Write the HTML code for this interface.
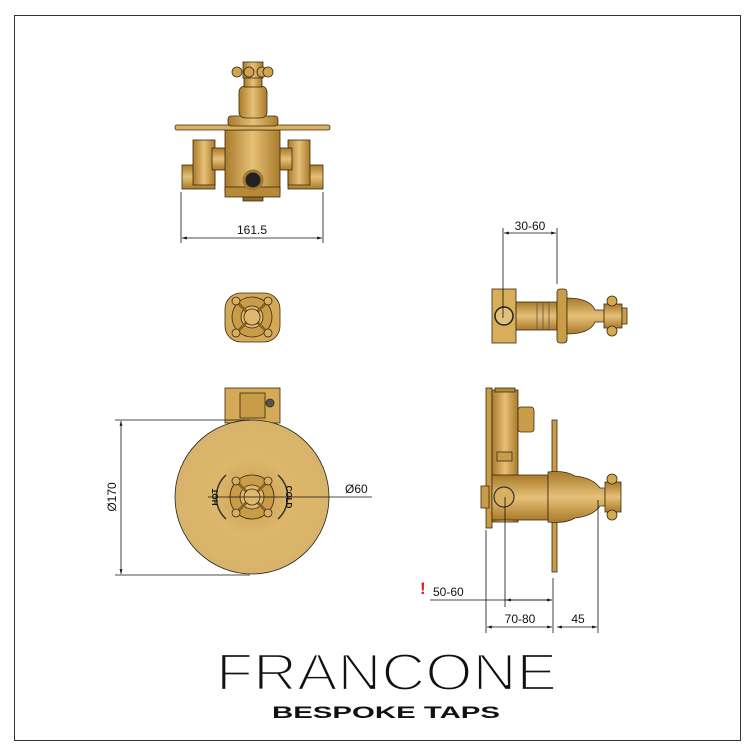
<!DOCTYPE html>
<html><head><meta charset="utf-8"><style>
html,body{margin:0;padding:0;background:#fff}
svg{display:block}
text{font-family:"Liberation Sans",sans-serif;fill:#111}
</style></head><body>
<svg width="755" height="756" viewBox="0 0 755 756" xmlns="http://www.w3.org/2000/svg">
<defs>
<radialGradient id="g1" cx="50%" cy="50%" r="50%"><stop offset="0" stop-color="#c9a050"/><stop offset="0.5" stop-color="#dcb66a"/><stop offset="1" stop-color="#d8b46a"/></radialGradient>
<linearGradient id="gv" x1="0" x2="1"><stop offset="0" stop-color="#a97a2a"/><stop offset="0.5" stop-color="#e6c078"/><stop offset="1" stop-color="#a97a2a"/></linearGradient>
<linearGradient id="gh" x1="0" x2="0" y1="0" y2="1"><stop offset="0" stop-color="#a97a2a"/><stop offset="0.5" stop-color="#e6c078"/><stop offset="1" stop-color="#a97a2a"/></linearGradient>
<marker id="a" viewBox="0 0 10 10" refX="10" refY="5" markerWidth="8" markerHeight="6" orient="auto-start-reverse"><path d="M0,2 L10,5 L0,8z" fill="#111"/></marker>
</defs>
<rect x="14.5" y="15.5" width="726" height="725" fill="none" stroke="#333" stroke-width="1"/>

<!-- TOP VIEW -->
<g stroke="#3a2a10" stroke-width="0.8">
<rect x="182" y="165" width="33" height="24" fill="url(#gh)"/>
<rect x="193" y="140" width="22" height="45" fill="url(#gv)"/>
<rect x="288" y="165" width="35" height="24" fill="url(#gh)"/>
<rect x="288" y="140" width="22" height="45" fill="url(#gv)"/>
<rect x="212" y="148" width="80" height="22" fill="url(#gh)"/>
<rect x="225" y="130" width="55" height="62" fill="url(#gv)"/>
<rect x="225" y="187" width="55" height="10" fill="#b88a38"/>
<rect x="243" y="197" width="20" height="4" fill="#8a6a30"/>
<circle cx="253" cy="180" r="9" fill="#222" stroke="#a07830" stroke-width="3"/>
<rect x="175" y="125" width="155" height="5" rx="2" fill="#d8b060"/>
<rect x="228" y="116" width="50" height="10" rx="3" fill="url(#gv)"/>
<rect x="239" y="86" width="28" height="32" rx="6" fill="url(#gv)"/>
<rect x="244" y="77" width="18" height="10" fill="url(#gv)"/>
<rect x="243" y="62" width="20" height="16" fill="url(#gv)"/>
<circle cx="237" cy="72" r="5" fill="#d0a550"/><circle cx="249" cy="72" r="5" fill="#d0a550"/>
<circle cx="262" cy="72" r="5" fill="#d0a550"/><circle cx="268" cy="72" r="5" fill="#d0a550"/>
</g>
<g stroke="#111" stroke-width="0.8" fill="none">
<line x1="181" y1="192" x2="181" y2="243"/><line x1="323" y1="192" x2="323" y2="243"/>
<line x1="182" y1="238" x2="322" y2="238" marker-start="url(#a)" marker-end="url(#a)"/>
</g>
<text x="252" y="234" font-size="12" text-anchor="middle">161.5</text>

<!-- small handle front view -->
<g stroke="#3a2a10" stroke-width="0.8">
<rect x="225" y="293" width="55" height="49" rx="16" fill="#d4aa58"/>
<circle cx="252" cy="317" r="20" fill="#c99c48"/>
<circle cx="252" cy="317" r="11" fill="#deb870"/>
<g stroke="#8a6525" stroke-width="3"><line x1="236" y1="301" x2="268" y2="333"/><line x1="268" y1="301" x2="236" y2="333"/></g>
<circle cx="236" cy="301" r="4" fill="#d8b060"/><circle cx="268" cy="301" r="4" fill="#d8b060"/>
<circle cx="236" cy="333" r="4" fill="#d8b060"/><circle cx="268" cy="333" r="4" fill="#d8b060"/>
<circle cx="252" cy="317" r="8" fill="#deb870"/>
</g>

<!-- big front view -->
<g stroke="#3a2a10" stroke-width="0.8">
<rect x="225" y="388" width="55" height="35" fill="#d4aa58"/>
<rect x="240" y="393" width="25" height="25" fill="#c99c48"/>
<circle cx="270" cy="403" r="4" fill="#555"/>
<circle cx="252" cy="497" r="77" fill="url(#g1)" stroke="#222"/>
<circle cx="252" cy="497" r="22" fill="#c99c48"/>
<circle cx="252" cy="497" r="12" fill="#deb870"/>
<g stroke="#8a6525" stroke-width="3"><line x1="236" y1="481" x2="268" y2="513"/><line x1="268" y1="481" x2="236" y2="513"/></g>
<circle cx="236" cy="481" r="4" fill="#d8b060"/><circle cx="268" cy="481" r="4" fill="#d8b060"/>
<circle cx="236" cy="513" r="4" fill="#d8b060"/><circle cx="268" cy="513" r="4" fill="#d8b060"/>
<circle cx="252" cy="497" r="8" fill="#deb870"/>
</g>
<path d="M226,475 A30,30 0 0 0 226,519" fill="none" stroke="#333" stroke-width="1.5"/>
<path d="M278,475 A30,30 0 0 1 278,519" fill="none" stroke="#333" stroke-width="1.5"/>
<text x="0" y="0" font-size="8" font-weight="bold" transform="translate(218,497) rotate(-90)" text-anchor="middle">HOT</text>
<text x="0" y="0" font-size="8" font-weight="bold" transform="translate(286,497) rotate(90)" text-anchor="middle">COLD</text>
<g stroke="#111" stroke-width="0.8" fill="none">
<line x1="115" y1="420" x2="250" y2="420"/><line x1="115" y1="575" x2="250" y2="575"/>
<line x1="121" y1="421" x2="121" y2="574" marker-start="url(#a)" marker-end="url(#a)"/>
<line x1="208" y1="497" x2="372" y2="497"/>
</g>
<text x="0" y="0" font-size="12" transform="translate(116,497) rotate(-90)" text-anchor="middle">Ø170</text>
<text x="345" y="493" font-size="12">Ø60</text>

<!-- right top side view -->
<g stroke="#3a2a10" stroke-width="0.8">
<rect x="516" y="302" width="41" height="28" fill="url(#gh)"/>
<g stroke="#555"><line x1="537" y1="302" x2="537" y2="330"/><line x1="543" y1="302" x2="543" y2="330"/><line x1="549" y1="302" x2="549" y2="330"/></g>
<rect x="492" y="289" width="24" height="54" fill="#d8ae58"/>
<circle cx="504" cy="316" r="9" fill="#e0c07a" stroke="#222" stroke-width="1.5"/>
<rect x="557" y="289" width="10" height="54" rx="3" fill="#c99c48"/>
<path d="M567,298 Q590,298 595,310 L604,310 L604,322 L595,322 Q590,334 567,334 Z" fill="url(#gh)"/>
<rect x="604" y="304" width="18" height="24" fill="url(#gh)"/>
<circle cx="612" cy="301" r="5" fill="#d4a850"/><circle cx="612" cy="331" r="5" fill="#d4a850"/>
<rect x="622" y="308" width="5" height="16" fill="#c99c48"/>
</g>
<g stroke="#111" stroke-width="0.8" fill="none">
<line x1="503" y1="228" x2="503" y2="318"/><line x1="557" y1="228" x2="557" y2="284"/>
<line x1="504" y1="233" x2="556" y2="233" marker-start="url(#a)" marker-end="url(#a)"/>
</g>
<text x="530" y="230" font-size="12" text-anchor="middle">30-60</text>

<!-- right lower side view -->
<g stroke="#3a2a10" stroke-width="0.8">
<rect x="486" y="388" width="6" height="140" fill="#c99c48"/>
<rect x="481" y="486" width="8" height="22" fill="#c99c48"/>
<rect x="492" y="390" width="26" height="132" fill="url(#gv)"/>
<rect x="495" y="388" width="20" height="4" fill="#b88a38"/>
<rect x="518" y="407" width="16" height="25" rx="3" fill="#c99c48"/>
<rect x="497" y="452" width="15" height="9" fill="#c99c48"/>
<rect x="492" y="475" width="56" height="45" fill="url(#gh)"/>
<circle cx="504" cy="497" r="10" fill="#d8b060" stroke="#333" stroke-width="1.2"/>
<rect x="552" y="420" width="5" height="152" fill="#c99c48"/>
<path d="M548,472 Q565,470 575,476 Q593,478 600,488 L605,488 L605,506 L600,506 Q593,516 575,518 Q565,524 548,522 Z" fill="url(#gh)"/>
<rect x="605" y="482" width="16" height="30" fill="url(#gh)"/>
<circle cx="612" cy="479" r="5" fill="#d4a850"/><circle cx="612" cy="515" r="5" fill="#d4a850"/>
</g>
<g stroke="#111" stroke-width="0.8" fill="none">
<line x1="486" y1="530" x2="486" y2="633"/>
<line x1="505" y1="497" x2="505" y2="607"/>
<line x1="553" y1="578" x2="553" y2="633"/>
<line x1="598" y1="500" x2="598" y2="633"/>
<line x1="430" y1="600" x2="552" y2="600"/>
<line x1="506" y1="600" x2="552" y2="600" marker-start="url(#a)" marker-end="url(#a)"/>
<line x1="487" y1="627" x2="552" y2="627" marker-start="url(#a)" marker-end="url(#a)"/>
<line x1="557" y1="627" x2="597" y2="627" marker-start="url(#a)" marker-end="url(#a)"/>
</g>
<text x="420" y="594" font-size="17" font-weight="bold" style="fill:#e21b1b">!</text>
<text x="433" y="596" font-size="12">50-60</text>
<text x="520" y="623" font-size="12" text-anchor="middle">70-80</text>
<text x="578" y="623" font-size="12" text-anchor="middle">45</text>

<!-- logo -->
<text x="216" y="690" font-size="52" textLength="341" lengthAdjust="spacingAndGlyphs" style="fill:#111;stroke:#fff;stroke-width:2.2">FRANCONE</text>
<text x="272" y="718" font-size="17" font-weight="bold" textLength="228" lengthAdjust="spacingAndGlyphs">BESPOKE TAPS</text>
</svg>
</body></html>
